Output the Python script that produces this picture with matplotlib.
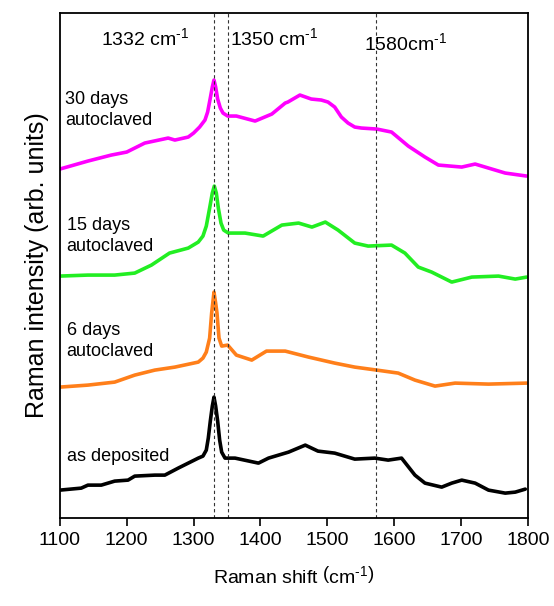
import matplotlib
matplotlib.use("Agg")
import matplotlib.pyplot as plt
import numpy as np

plt.rcParams['font.family'] = ['Liberation Sans', 'DejaVu Sans']
plt.rcParams['mathtext.fontset'] = 'custom'
plt.rcParams['mathtext.rm'] = 'Liberation Sans'
plt.rcParams['mathtext.it'] = 'Liberation Sans:italic'
plt.rcParams['mathtext.bf'] = 'Liberation Sans:bold'

# Raman shift positions (cm^-1) and offset intensities (arb. units)
x_30 = [1100, 1142, 1177, 1200, 1227, 1262, 1272, 1292, 1300, 1309, 1317, 1321, 1325, 1328, 1330.5,
        1333, 1336, 1340, 1344, 1351, 1364, 1392, 1417, 1437, 1441, 1459, 1476, 1491, 1501, 1511,
        1521, 1531, 1541, 1551, 1574, 1596, 1621, 1646, 1666, 1701, 1721, 1741, 1766, 1798]
y_30 = [349, 357, 363, 366, 375, 380, 378, 381, 385, 391, 398, 406, 420, 431, 438,
        431, 419, 410, 405, 402, 402, 397, 404, 415, 416, 423, 419, 418, 416, 411,
        401, 395, 391, 390, 389, 386, 372, 361, 353, 351, 354, 350, 345, 342]

x_15 = [1100, 1142, 1182, 1212, 1237, 1264, 1292, 1307, 1314, 1319, 1324, 1328, 1331, 1334, 1337,
        1341, 1345, 1352, 1377, 1404, 1432, 1457, 1477, 1497, 1516, 1541, 1561, 1596, 1616, 1636,
        1656, 1686, 1716, 1756, 1781, 1798]
y_15 = [242, 243, 243, 245, 253, 265, 270, 276, 282, 292, 310, 325, 332, 325, 310,
        295, 288, 285, 285, 282, 293, 295, 291, 296, 288, 275, 272, 273, 265, 251,
        246, 236, 241, 242, 239, 241]

x_6 = [1100, 1142, 1182, 1212, 1242, 1272, 1307, 1314, 1319, 1324, 1327, 1330.5, 1333, 1335, 1338,
       1342, 1351, 1364, 1387, 1409, 1437, 1472, 1511, 1541, 1574, 1606, 1631, 1661, 1691, 1741,
       1798]
y_6 = [131, 133, 136, 143, 148, 151, 156, 160, 166, 180, 205, 226, 215, 205, 180,
       172, 173, 163, 158, 167, 167, 161, 155, 151, 148, 145, 138, 132, 135, 134,
       135]

x_as = [1100, 1132, 1142, 1162, 1182, 1202, 1212, 1242, 1257, 1277, 1307, 1314, 1319, 1322, 1325,
        1328, 1330.5, 1333, 1336, 1339, 1342, 1347, 1362, 1397, 1412, 1442, 1467, 1486, 1511, 1541,
        1571, 1591, 1611, 1631, 1646, 1671, 1686, 1701, 1721, 1741, 1766, 1781, 1796]
y_as = [28, 30, 33, 33, 37, 38, 42, 43, 43, 50, 60, 62, 68, 80, 97,
        112, 121, 112, 97, 78, 66, 60, 60, 55, 60, 66, 73, 67, 65, 59,
        60, 58, 60, 43, 35, 31, 35, 38, 35, 28, 25, 26, 29]

peak_lines = [1331, 1352, 1573]
peak_labels = ["1332 cm$^{\\text{-1}}$", "1350 cm$^{\\text{-1}}$", "1580cm$^{\\text{-1}}$"]
sample_labels = ["30 days\nautoclaved", "15 days\nautoclaved", "6 days\nautoclaved", "as deposited"]
xticks = [1100, 1200, 1300, 1400, 1500, 1600, 1700, 1800]

fig = plt.figure(figsize=(5.54, 6.06), dpi=100)
ax = fig.add_axes([0.108, 0.145, 0.845, 0.8335])

series = [(x_30, y_30, '#FF00FF'), (x_15, y_15, '#22EE22'),
          (x_6, y_6, '#FF7F1A'), (x_as, y_as, '#000000')]
for xs, ys, c in series:
    ax.plot(xs, ys, color=c, lw=2.6, solid_joinstyle='round', solid_capstyle='round')

for xv in peak_lines:
    ax.axvline(xv, color='#333333', lw=0.8, ls=(0, (3, 2.5)))

ax.set_xlim(1100, 1800)
ax.set_ylim(0, 505)
ax.set_xticks(xticks)
ax.set_yticks([])
ax.tick_params(axis='x', direction='out', length=6, width=1.2, labelsize=14, pad=4)
for s in ax.spines.values():
    s.set_linewidth(1.3)

ax.set_xlabel("Raman shift $\\left(\\mathrm{cm}^{\\text{-1}}\\right)$", fontsize=14, labelpad=12)
ax.set_ylabel("Raman intensity (arb. units)", fontsize=18, labelpad=8)

# peak labels at the top
ax.text(1162, 480, peak_labels[0], fontsize=14, ha='left', va='center')
ax.text(1355, 480, peak_labels[1], fontsize=14, ha='left', va='center')
ax.text(1555, 475, peak_labels[2], fontsize=14, ha='left', va='center')

# sample labels
ax.text(1108, 408, sample_labels[0], fontsize=13, ha='left', va='center', linespacing=1.3)
ax.text(1110, 282, sample_labels[1], fontsize=13, ha='left', va='center', linespacing=1.3)
ax.text(1110, 177, sample_labels[2], fontsize=13, ha='left', va='center', linespacing=1.3)
ax.text(1110, 62, sample_labels[3], fontsize=13, ha='left', va='center')

fig.savefig("out.png", dpi=100)
